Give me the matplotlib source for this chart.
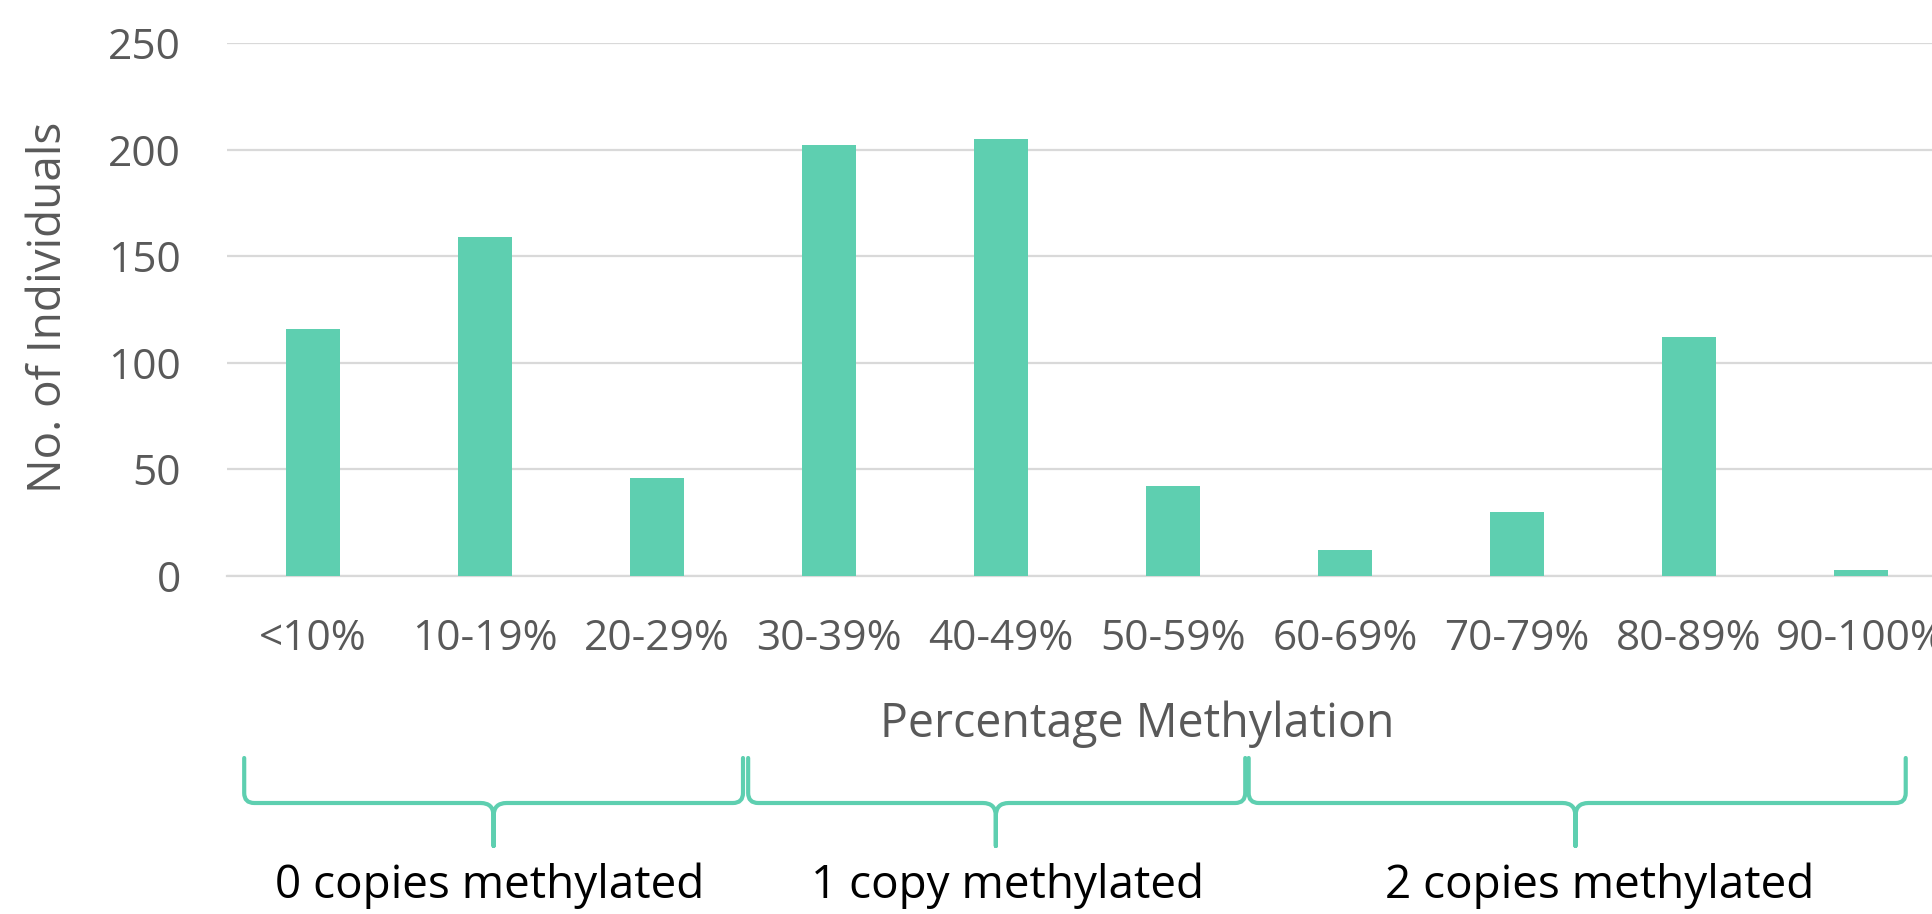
import numpy as np
import matplotlib.pyplot as plt
from matplotlib.path import Path
from matplotlib.patches import PathPatch

# methylation bins and number of individuals in each
categories = ['<10%', '10-19%', '20-29%', '30-39%', '40-49%',
              '50-59%', '60-69%', '70-79%', '80-89%', '90-100%']
counts = [116, 159, 46, 202, 205, 42, 12, 30, 112, 3]

# copy-number groups drawn as braces under the x axis (start, tip, end in bin units)
group_labels = ['0 copies methylated', '1 copy methylated', '2 copies methylated']
group_spans = [(-0.40, 1.05, 2.50), (2.53, 3.97, 5.42), (5.44, 7.34, 9.26)]
group_label_x = [1.03, 4.04, 7.48]

teal = '#5ECFB0'
grey_text = '#595959'
grid_col = '#D9D9D9'

plt.rcParams['font.family'] = ['Open Sans', 'DejaVu Sans']

W, H = 1933, 914
fig = plt.figure(figsize=(W / 100, H / 100), dpi=100)
ax = fig.add_axes([227 / W, (H - 576) / H, 1720 / W, 533 / H])

x = np.arange(len(categories))
ax.bar(x, counts, width=0.315, color=teal, zorder=3)

ax.set_xlim(-0.5, len(categories) - 0.5)
ax.set_ylim(0, 250)
ax.set_yticks(np.arange(0, 251, 50))
ax.set_xticks(x)
ax.set_xticklabels(categories)
ax.yaxis.grid(True, color=grid_col, linewidth=1.6, zorder=0)
ax.tick_params(axis='both', length=0, labelsize=30.5, labelcolor=grey_text)
ax.tick_params(axis='y', pad=33)
ax.tick_params(axis='x', pad=30)
for s in ['top', 'right', 'left']:
    ax.spines[s].set_visible(False)
ax.spines['bottom'].set_color(grid_col)
ax.spines['bottom'].set_linewidth(1.6)

fig.text(1137 / W, (H - 724) / H, 'Percentage Methylation', fontsize=33.5,
         color=grey_text, ha='center', va='center')
fig.text(49 / W, (H - 307) / H, 'No. of Individuals', fontsize=33,
         color=grey_text, ha='center', va='center', rotation=90)


def brace(x0, xt, x1, ytop, yline, ytip, r=10, rt=13):
    # curly brace in figure pixels, opening upwards, cusp pointing down at xt
    verts = [(x0, ytop), (x0, yline + r), (x0, yline), (x0 + r, yline),
             (xt - rt, yline), (xt, yline), (xt, yline - rt), (xt, ytip),
             (xt, yline - rt), (xt, yline), (xt + rt, yline),
             (x1 - r, yline), (x1, yline), (x1, yline + r), (x1, ytop)]
    codes = [Path.MOVETO, Path.LINETO, Path.CURVE3, Path.CURVE3,
             Path.LINETO, Path.CURVE3, Path.CURVE3, Path.LINETO,
             Path.LINETO, Path.CURVE3, Path.CURVE3,
             Path.LINETO, Path.CURVE3, Path.CURVE3, Path.LINETO]
    return Path(verts, codes)


fig.canvas.draw()
for (s, t, e), lx, lab in zip(group_spans, group_label_x, group_labels):
    px = ax.transData.transform([(s, 0), (t, 0), (e, 0), (lx, 0)])[:, 0]
    p = brace(px[0], px[1], px[2], H - 758, H - 803, H - 846)
    fig.add_artist(PathPatch(p, transform=None, facecolor='none',
                             edgecolor=teal, linewidth=3, capstyle='round',
                             joinstyle='round'))
    fig.text(px[3] / W, (H - 886) / H, lab, fontsize=33, color='black',
             ha='center', va='center')

fig.savefig('out.png', dpi=100)
